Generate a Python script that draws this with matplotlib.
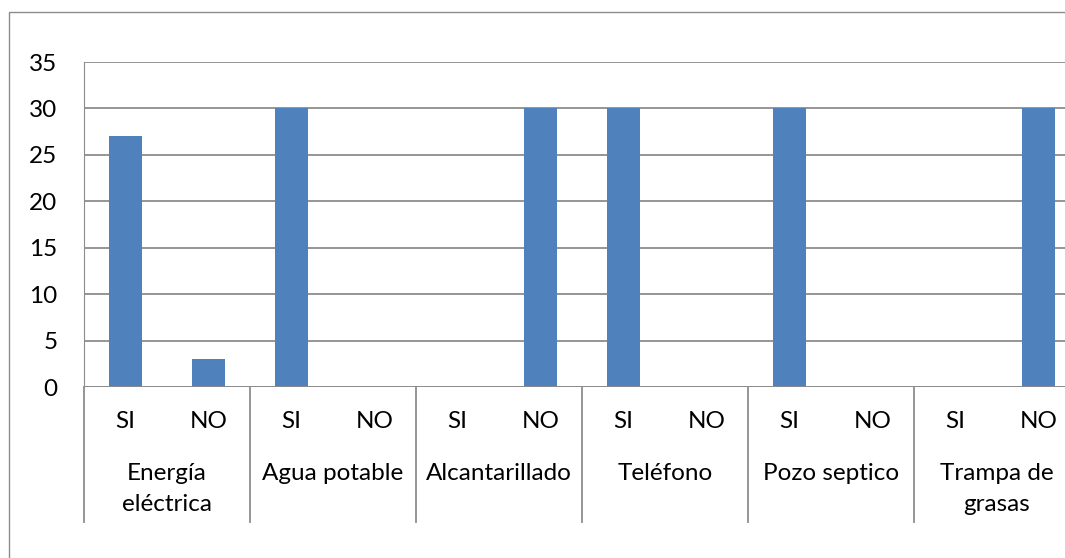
import matplotlib
matplotlib.use("Agg")
import matplotlib.pyplot as plt
from matplotlib.patches import Rectangle
import matplotlib.transforms as mtransforms

# data
groups = ["Energía\neléctrica", "Agua potable", "Alcantarillado", "Teléfono",
          "Pozo septico", "Trampa de\ngrasas"]
answers = ["SI", "NO"]
values = [27, 3, 30, 0, 0, 30, 30, 0, 30, 0, 0, 30]

plt.rcParams['font.family'] = ['Lato', 'DejaVu Sans']
W, H = 1065, 558
fs = 17.5
fig = plt.figure(figsize=(W / 100, H / 100), dpi=100)

# outer chart border (runs off the right/bottom edge)
fig.patches.append(Rectangle((9 / W, -0.1), 1.2, 1 - 12 / H + 0.1, transform=fig.transFigure,
                             fill=False, edgecolor='#8c8c8c', linewidth=1.0))

left, right, y0, y35 = 84, 84 + 12 * 83, 387, 62
ax = fig.add_axes([left / W, 1 - y0 / H, (right - left) / W, (y0 - y35) / H])

x = range(len(values))
ax.bar([i + 0.5 for i in x], values, width=0.4, color='#4F81BD', zorder=3)
ax.set_xlim(0, 12)
ax.set_ylim(0, 35)
ax.set_yticks(range(0, 36, 5))
ax.yaxis.grid(True, color='#8c8c8c', linewidth=1.3)
ax.set_axisbelow(True)
ax.tick_params(axis='y', length=0, pad=19, labelsize=fs)
ax.set_xticks([])
for s in ['top', 'right', 'bottom']:
    ax.spines[s].set_visible(False)
ax.spines['left'].set_color('#8c8c8c')

trans = mtransforms.blended_transform_factory(ax.transData, ax.transAxes)
ph = y0 - y35
bottom = -(522 - y0) / ph
for g in range(len(groups) + 1):
    ax.plot([2 * g, 2 * g], [0, bottom], transform=trans, color='#8c8c8c',
            linewidth=1.3, clip_on=False)
ax.axhline(0, color='#8c8c8c', linewidth=1.3, zorder=4)

for i in x:
    ax.text(i + 0.5, -(422 - y0) / ph, answers[i % 2], transform=trans,
            ha='center', va='center', fontsize=fs)
for g, name in enumerate(groups):
    ax.text(2 * g + 1, -(463 - y0) / ph, name, transform=trans, ha='center',
            va='top', fontsize=fs, linespacing=1.6)

fig.savefig("out.png", dpi=100)
